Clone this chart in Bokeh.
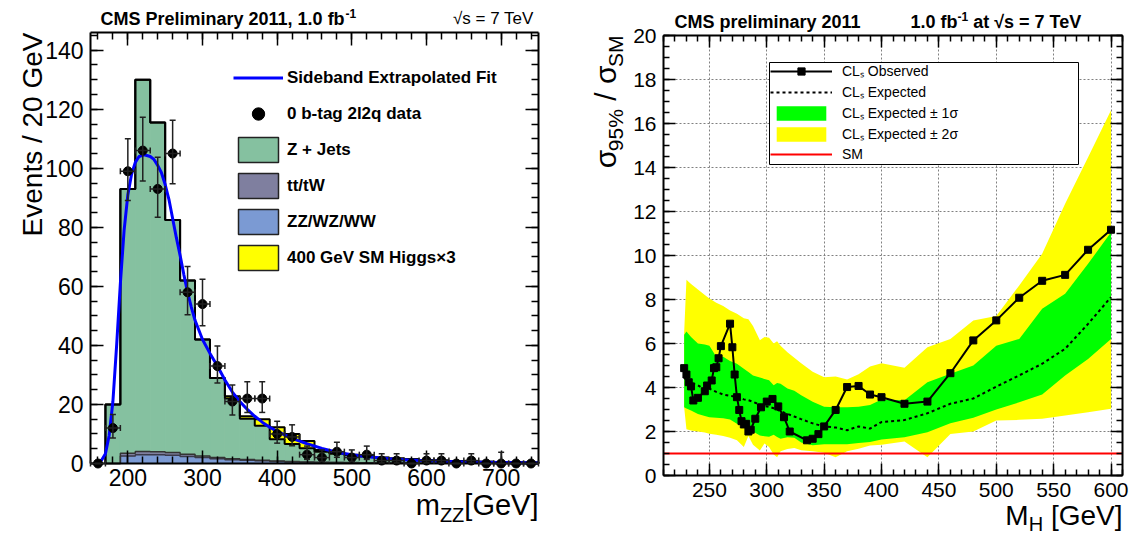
import math
from bokeh.plotting import figure
from bokeh.layouts import row
from bokeh.models import (ColumnDataSource, Legend, LegendItem, Label, Whisker, TeeHead,
                          LinearAxis, SingleIntervalTicker, BoxAnnotation, Range1d, Grid)
from bokeh.embed import file_html
from bokeh.resources import INLINE

FONT = "Liberation Sans"
NAN = float("nan")

# ---------------- left panel: m_ZZ distribution ----------------
bin_lo = [170, 190, 210, 230, 250, 270, 290, 310, 330, 350, 370, 390, 410, 430, 450,
          470, 490, 510, 530, 550, 570, 590, 610, 630, 650, 670, 690, 710, 730]
BIN_W = 20
zz_hist = [0, 2.5, 3.0, 3.0, 2.8, 2.4, 2.0, 1.6, 1.3, 1.1, 0.9, 0.7, 0.55, 0.45, 0.35,
           0.3, 0.25, 0.2, 0.17, 0.14, 0.12, 0.1, 0.08, 0.07, 0.06, 0.05, 0.04, 0.03, 0.03]
tt_hist = [0, 1.0, 1.1, 1.0, 0.9, 0.7, 0.5, 0.4, 0.3, 0.25, 0.2, 0.15, 0.12, 0.1, 0.08,
           0.06, 0.05, 0.04, 0.03, 0.03, 0.02, 0.02, 0.01, 0.01, 0.01, 0.01, 0.01, 0, 0]
zjets_hist = [20, 89.5, 125.9, 111.5, 78.8, 58.9, 39.5, 27.0, 20.4, 13.85, 11.7, 7.35, 5.93,
              4.65, 3.57, 2.94, 2.5, 2.16, 1.75, 1.53, 1.26, 1.08, 0.91, 0.77, 0.63, 0.54,
              0.45, 0.37, 0.32]
higgs_hist = [0, 0, 0, 0, 0, 0, 0, 0, 0.8, 0.8, 2.2, 4.1, 3.4, 2.4, 0.6, 0.3, 0.2, 0.1, 0.05,
              0, 0, 0, 0, 0, 0, 0, 0, 0, 0]

data_x = [160, 180, 200, 220, 240, 260, 280, 300, 320, 340, 360, 380, 400, 420, 440,
          460, 480, 500, 520, 540, 560, 580, 600, 620, 640, 660, 680, 700, 720, 740]
data_y = [0, 12, 99, 106, 93, 105, 58, 54, 33, 21, 22, 22, 10, 9, 3,
          2, 4, 2, 3, 1, 1, 0, 1, 1, 0, 1, 0, 0, 0, 0]
data_err_hi = [0, 4.6, 11.0, 11.3, 10.7, 11.3, 8.7, 8.4, 6.8, 5.6, 5.7, 5.7, 4.3, 4.1, 2.9,
               2.6, 3.2, 2.6, 2.9, 2.3, 2.3, 0, 2.3, 2.3, 0, 2.3, 0, 3.8, 0, 0]
data_err_lo = [0, 3.4, 9.9, 10.3, 9.6, 10.2, 7.6, 7.3, 5.7, 4.6, 4.7, 4.7, 3.1, 3.0, 1.6,
               1.3, 1.9, 1.3, 1.6, 0.8, 0.8, 0, 0.8, 0.8, 0, 0.8, 0, 0, 0, 0]
DATA_XERR = 10

fit_x = [155, 160, 165, 170, 175, 180, 185, 190, 195, 200, 205, 210, 215, 222, 230, 235,
         240, 245, 250, 255, 260, 265, 270, 275, 280, 285, 290, 300, 310, 320, 330, 340,
         350, 360, 370, 380, 390, 400, 420, 440, 460, 480, 500, 525, 550, 575, 600, 650,
         700, 750]
fit_y = [0, 0.2, 1.2, 3.3, 9.5, 21, 40, 61, 79, 91, 98, 102, 104, 104.6, 104, 103,
         101, 98.5, 94.5, 89.5, 83, 76.5, 70.5, 64, 58, 53, 48.5, 42, 37.3, 33, 28.3, 24.2,
         21, 18.3, 16, 14, 12.3, 10.9, 8.5, 6.7, 5.1, 3.8, 3.0, 2.2, 1.6, 1.2, 0.9, 0.55,
         0.35, 0.2]

# ---------------- right panel: limits ----------------
obs_mass = [228, 230, 232, 234, 236, 240, 246, 248, 252, 254, 256, 258, 260, 268, 270,
            272, 274, 276, 278, 280, 282, 284, 286, 290, 295, 300, 305, 310, 315, 320,
            335, 340, 345, 350, 360, 370, 380, 390, 400, 420, 440, 460, 480, 500, 520,
            540, 560, 580, 600]
obs_val = [4.88, 4.59, 4.24, 4.05, 3.41, 3.53, 3.83, 4.09, 4.32, 4.88, 4.92, 5.33, 5.88, 6.90, 5.83,
           4.59, 3.56, 2.98, 2.47, 2.32, 2.35, 2.00, 2.08, 2.58, 3.10, 3.36, 3.48, 3.14, 2.65, 2.00,
           1.60, 1.67, 1.88, 2.23, 2.98, 4.02, 4.07, 3.68, 3.56, 3.26, 3.36, 4.65, 6.14, 7.05, 8.08,
           8.85, 9.12, 10.26, 11.17]
band_mass = [228, 230, 234, 240, 246, 250, 256, 262, 268, 274, 280, 284, 288, 294, 298, 302,
             306, 309, 312, 318, 324, 330, 340, 350, 360, 370, 380, 390, 400, 420, 440, 460,
             480, 500, 520, 540, 560, 580, 600]
exp_val = [4.50, 4.25, 4.20, 4.10, 3.90, 3.95, 3.80, 3.68, 3.62, 3.58, 3.46, 3.42, 3.35, 3.22,
           3.16, 3.12, 3.06, 3.00, 2.92, 2.80, 2.68, 2.56, 2.37, 2.23, 2.18, 2.06, 2.23, 2.13,
           2.43, 2.52, 2.83, 3.26, 3.50, 4.04, 4.55, 5.08, 5.76, 6.89, 8.11]
s1_lo = [3.10, 3.05, 2.95, 2.80, 2.70, 2.65, 2.63, 2.60, 2.55, 2.35, 2.25, 2.27, 2.00, 1.82,
         1.78, 1.76, 1.85, 1.75, 1.67, 1.74, 1.72, 1.50, 1.38, 1.42, 1.42, 1.42, 1.48, 1.52,
         1.64, 1.74, 1.97, 2.38, 2.62, 3.00, 3.33, 3.68, 4.55, 5.30, 6.21]
s1_hi = [6.40, 6.55, 6.30, 6.00, 5.95, 5.90, 5.40, 5.40, 5.20, 5.08, 4.85, 4.70, 4.55, 4.45,
         4.39, 4.33, 4.10, 4.20, 4.17, 3.95, 3.85, 3.65, 3.35, 3.12, 3.10, 3.10, 3.12, 3.20,
         3.45, 3.42, 4.24, 4.62, 5.00, 5.90, 6.21, 7.58, 8.26, 9.62, 11.06]
s2_lo = [3.10, 2.10, 2.05, 2.00, 1.95, 1.90, 1.85, 1.80, 1.72, 1.60, 1.30, 1.80, 1.40, 1.14,
         1.45, 1.30, 0.95, 0.83, 1.10, 1.20, 1.25, 1.15, 1.10, 1.03, 0.83, 1.10, 1.22, 1.36,
         1.40, 1.55, 0.83, 1.89, 2.00, 2.50, 2.53, 2.58, 2.73, 2.88, 3.03]
s2_hi = [6.50, 8.90, 8.70, 8.45, 8.20, 8.05, 7.85, 7.70, 7.50, 7.35, 7.15, 7.10, 6.80, 6.15,
         6.30, 6.26, 6.00, 6.10, 5.90, 5.60, 5.35, 5.10, 4.72, 4.47, 4.50, 4.36, 4.60, 4.95,
         5.10, 4.90, 5.83, 6.21, 7.05, 7.25, 8.64, 10.08, 12.35, 14.47, 16.60]
SM_LEVEL = 1.0

# ---------------- text metrics (Arial / Liberation Sans) ----------------
REG = {' ': 278, '%': 889, ',': 278, '-': 333, '.': 278, '/': 278, '=': 584, '[': 278, ']': 278,
       '×': 584, '±': 584, '√': 549, 'σ': 570}
for c in '0123456789':
    REG[c] = 556
REG.update(dict(A=667, B=667, C=722, D=722, E=667, F=611, G=778, H=722, I=278, J=500, K=667,
                L=556, M=833, N=722, O=778, P=667, Q=778, R=722, S=667, T=611, U=722, V=667,
                W=944, X=667, Y=667, Z=611, a=556, b=556, c=500, d=556, e=556, f=278, g=556,
                h=556, i=222, j=222, k=500, l=222, m=833, n=556, o=556, p=556, q=556, r=333,
                s=500, t=278, u=556, v=500, w=722, x=500, y=500, z=500))
BOLD = dict(REG)
BOLD.update(dict(A=722, B=722, J=556, K=722, L=611, a=556, b=611, c=556, d=611, e=556, f=333,
                 g=611, h=611, i=278, j=278, k=556, l=278, m=889, n=611, o=611, p=611, q=611,
                 r=389, s=556, t=333, u=611, v=556, w=778, x=556, y=556, z=500))
MID = 0.35   # distance from the alphabetic baseline to the text middle, in em


def text_width(s, size, bold=False):
    tab = BOLD if bold else REG
    return sum(tab.get(ch, 556) for ch in s) * size / 1000.0


def rich_text(p, canvas_x0, segs, px, py, rotate=False, anchor="start"):
    """Place text pieces (with sub/superscripts) on baseline (px, py) in page pixels."""
    total = sum(text_width(t, sz, b) for t, sz, dy, b in segs)
    pos = -total if anchor == "end" else 0.0
    for t, sz, dy, b in segs:
        lead = len(t) - len(t.lstrip(" "))
        pos += text_width(" " * lead, sz, b)
        t = t.strip(" ")
        if rotate:
            sx, sy = px + dy - MID * sz, py - pos
        else:
            sx, sy = px + pos, py + dy - MID * sz
        p.add_layout(Label(x=sx - canvas_x0, y=sy, x_units="canvas", y_units="canvas",
                           text=t, text_font=FONT, text_font_size=f"{sz}px",
                           text_font_style="bold" if b else "normal", text_color="black",
                           text_align="left", text_baseline="middle",
                           angle=math.pi / 2 if rotate else 0))
        pos += text_width(t, sz, b)


def canvas_ranges(box, W, H):
    sx = (box['x1'] - box['x0']) / (box['right'] - box['left'])
    sy = (box['y1'] - box['y0']) / (box['bottom'] - box['top'])
    xr = Range1d(box['x0'] - box['left'] * sx, box['x0'] + (W - box['left']) * sx)
    yr = Range1d(box['y0'] - (H - box['bottom']) * sy, box['y1'] + box['top'] * sy)
    return xr, yr


def make_axis(ticker, fixed, bounds, major_in, minor_in, size=None, standoff=0):
    ax = LinearAxis(ticker=ticker, fixed_location=fixed, bounds=bounds)
    ax.axis_line_width = 2
    ax.axis_line_color = "black"
    ax.major_tick_in = major_in
    ax.major_tick_out = 0
    ax.minor_tick_in = minor_in
    ax.minor_tick_out = 0
    ax.major_tick_line_width = 1.5
    ax.minor_tick_line_width = 1.5
    ax.major_tick_line_color = "black"
    ax.minor_tick_line_color = "black"
    ax.major_label_text_font = FONT
    if size is None:
        ax.major_label_text_font_size = "1px"
        ax.major_label_text_color = None
        ax.major_label_standoff = 0
    else:
        ax.major_label_text_color = "black"
        ax.major_label_text_font_size = size
        ax.major_label_standoff = standoff
    return ax


def add_box_axes(p, box, xint, xminor, yint, yminor, major_in, minor_in, lab_size,
                 xstand, ystand):
    xb = (box['x0'], box['x1'])
    yb = (box['y0'], box['y1'])
    p.add_layout(make_axis(SingleIntervalTicker(interval=xint, num_minor_ticks=xminor),
                           box['y0'], xb, major_in, minor_in, lab_size, xstand), "below")
    p.add_layout(make_axis(SingleIntervalTicker(interval=yint, num_minor_ticks=yminor),
                           box['x0'], yb, major_in, minor_in, lab_size, ystand), "left")
    p.add_layout(make_axis(SingleIntervalTicker(interval=yint, num_minor_ticks=yminor),
                           box['x1'], yb, major_in, minor_in), "right")
    p.add_layout(make_axis(SingleIntervalTicker(interval=xint, num_minor_ticks=xminor),
                           box['y1'], xb, major_in, minor_in), "above")


def step_path(lo, width, h):
    xs, ys = [lo[0]], [0.0]
    for a, v in zip(lo, h):
        xs += [a, a + width]
        ys += [v, v]
    xs.append(lo[-1] + width)
    ys.append(0.0)
    return xs, ys


def bare_figure(W, H, xr, yr):
    p = figure(width=W, height=H, x_range=xr, y_range=yr, output_backend="svg",
               toolbar_location=None, x_axis_location=None, y_axis_location=None,
               min_border_left=0, min_border_right=0, min_border_top=0, min_border_bottom=0)
    p.outline_line_color = None
    p.background_fill_color = "white"
    p.border_fill_color = "white"
    p.grid.visible = False
    return p


# ======================= LEFT FIGURE (page x 0..578) =======================
W1, H = 578, 538
LBOX = dict(x0=150, x1=750, y0=0, y1=146, left=90, right=538, top=32, bottom=463)
xr1, yr1 = canvas_ranges(LBOX, W1, H)
p1 = bare_figure(W1, H, xr1, yr1)
add_box_axes(p1, LBOX, 100, 5, 20, 4, 13, 7, "23px", 5, 7)

C_ZJ, C_TT, C_ZZ, C_H = "#85c1a0", "#7f7f9f", "#7b9ad3", "#ffff00"

b0 = [0.0] * len(bin_lo)
b1 = [a + b for a, b in zip(b0, zz_hist)]
b2 = [a + b for a, b in zip(b1, tt_hist)]
b3 = [a + b for a, b in zip(b2, zjets_hist)]
b4 = [a + b for a, b in zip(b3, higgs_hist)]
bin_hi = [v + BIN_W for v in bin_lo]

for bot, top, col in ((b0, b1, C_ZZ), (b1, b2, C_TT), (b2, b3, C_ZJ), (b3, b4, C_H)):
    p1.quad(left=bin_lo, right=bin_hi, bottom=bot, top=top, fill_color=col,
            line_color=col, line_width=1)

for lvl, col, lw in ((b1, "#3a3a4a", 1.5), (b2, "#333333", 1.5), (b3, "black", 2), (b4, "black", 2)):
    xs, ys = step_path(bin_lo, BIN_W, lvl)
    p1.line(xs, ys, line_color=col, line_width=lw)

fit_r = p1.line(fit_x, fit_y, line_color="#0000ff", line_width=3)

dsrc = ColumnDataSource(dict(
    x=data_x, y=data_y,
    lo=[y - e for y, e in zip(data_y, data_err_lo)],
    hi=[y + e for y, e in zip(data_y, data_err_hi)],
    xl=[x - DATA_XERR for x in data_x],
    xr=[x + DATA_XERR for x in data_x]))
for base, lo, hi, dim in (("x", "lo", "hi", "height"), ("y", "xl", "xr", "width")):
    p1.add_layout(Whisker(source=dsrc, base=base, lower=lo, upper=hi, dimension=dim,
                          line_color="#202020", line_width=1.5, level="annotation",
                          upper_head=TeeHead(size=6, line_width=1.5, line_color="#202020"),
                          lower_head=TeeHead(size=6, line_width=1.5, line_color="#202020")))
dots_r = p1.scatter("x", "y", source=dsrc, marker="circle", size=9, fill_color="black",
                    line_color="black")

proxies = []
for col in (C_ZJ, C_TT, C_ZZ, C_H):
    proxies.append(p1.quad(left=[NAN], right=[NAN], bottom=[NAN], top=[NAN], fill_color=col,
                           line_color="#222222", line_width=1.5))

leg1 = Legend(items=[
    LegendItem(label="Sideband Extrapolated Fit", renderers=[fit_r]),
    LegendItem(label="0 b-tag 2l2q data", renderers=[dots_r]),
    LegendItem(label="Z + Jets", renderers=[proxies[0]]),
    LegendItem(label="tt/tW", renderers=[proxies[1]]),
    LegendItem(label="ZZ/WZ/WW", renderers=[proxies[2]]),
    LegendItem(label="400 GeV SM Higgs×3", renderers=[proxies[3]]),
], location=(233, 265), orientation="vertical", padding=0, spacing=5, margin=0,
    glyph_width=50, glyph_height=31, label_height=31, label_standoff=4,
    label_text_font=FONT, label_text_font_style="bold", label_text_font_size="17px",
    label_text_color="black", border_line_color=None, background_fill_alpha=0)
p1.add_layout(leg1)

rich_text(p1, 0, [("CMS Preliminary 2011, 1.0 fb", 18, 0, True), ("-1", 12, -8, True)], 100, 25)
rich_text(p1, 0, [("√s = 7 TeV", 17, 0, False)], 535, 24, anchor="end")
rich_text(p1, 0, [("m", 29, 0, False), ("ZZ", 20, 6, False), ("[GeV]", 29, 0, False)],
          538, 515, anchor="end")
rich_text(p1, 0, [("Events / 20 GeV", 28, 0, False)], 42, 32, rotate=True, anchor="end")

# ======================= RIGHT FIGURE (page x 578..1136) =======================
X0R, W2 = 578, 558
RBOX = dict(x0=210, x1=610, y0=0, y1=20, left=85, right=544, top=35, bottom=475)
xr2, yr2 = canvas_ranges(RBOX, W2, H)
p2 = bare_figure(W2, H, xr2, yr2)
add_box_axes(p2, RBOX, 50, 5, 2, 4, 12, 6, "21px", 7, 7)

xt = SingleIntervalTicker(interval=50, num_minor_ticks=5)
yt = SingleIntervalTicker(interval=2, num_minor_ticks=4)
gx = Grid(dimension=0, ticker=xt, bounds=(RBOX['x0'], RBOX['x1']))
gy = Grid(dimension=1, ticker=yt, bounds=(RBOX['y0'], RBOX['y1']))
has_cross = "cross_bounds" in Grid.properties()
if has_cross:
    gx.cross_bounds = (RBOX['y0'], RBOX['y1'])
    gy.cross_bounds = (RBOX['x0'], RBOX['x1'])
for g in (gx, gy):
    g.grid_line_color = "#808080"
    g.grid_line_dash = "2 2"
    g.grid_line_width = 1
    if has_cross:
        p2.add_layout(g)

y2_r = p2.varea(x=band_mass, y1=s2_lo, y2=s2_hi, fill_color="#ffff00")
y1_r = p2.varea(x=band_mass, y1=s1_lo, y2=s1_hi, fill_color="#00ff00")
sm_r = p2.segment(x0=[RBOX['x0']], x1=[RBOX['x1']], y0=[SM_LEVEL], y1=[SM_LEVEL],
                  line_color="#ff0000", line_width=2)
exp_r = p2.line(band_mass, exp_val, line_color="black", line_width=2, line_dash="3 3")
obs_l = p2.line(obs_mass, obs_val, line_color="black", line_width=2)
obs_m = p2.scatter(obs_mass, obs_val, marker="square", size=7, fill_color="black",
                   line_color="black")

# legend frame, in canvas pixels
p2.add_layout(BoxAnnotation(left=769 - X0R, right=1078 - X0R, top=62, bottom=164,
                            left_units="canvas", right_units="canvas",
                            top_units="canvas", bottom_units="canvas",
                            fill_color="white", fill_alpha=1, line_color="black",
                            line_width=1, line_alpha=1, line_dash="solid", level="annotation"))

leg2 = Legend(items=[
    LegendItem(label="CLₛ Observed", renderers=[obs_l, obs_m]),
    LegendItem(label="CLₛ Expected", renderers=[exp_r]),
    LegendItem(label="CLₛ Expected ± 1σ", renderers=[y1_r]),
    LegendItem(label="CLₛ Expected ± 2σ", renderers=[y2_r]),
    LegendItem(label="SM", renderers=[sm_r]),
], location=(192, 375), orientation="vertical", padding=0, spacing=2, margin=0,
    glyph_width=62, glyph_height=18, label_height=18, label_standoff=10,
    label_text_font=FONT, label_text_font_size="14px", label_text_color="black",
    border_line_color=None, background_fill_alpha=0)
p2.add_layout(leg2)

rich_text(p2, X0R, [("CMS preliminary 2011", 18, 0, True)], 674, 28)
rich_text(p2, X0R, [("1.0 fb", 18, 0, True), ("-1", 12, -8, True), (" at √s = 7 TeV", 18, 0, True)],
          910, 28)
rich_text(p2, X0R, [("M", 28, 0, False), ("H", 20, 5, False), (" [GeV]", 28, 0, False)],
          1122, 525, anchor="end")
rich_text(p2, X0R, [("σ", 30, 0, False), ("95%", 21, 7, False), (" / σ", 30, 0, False),
                    ("SM", 21, 7, False)], 615, 35, rotate=True, anchor="end")

layout = row(p1, p2)
open("out.html", "w").write(file_html(layout, INLINE))
